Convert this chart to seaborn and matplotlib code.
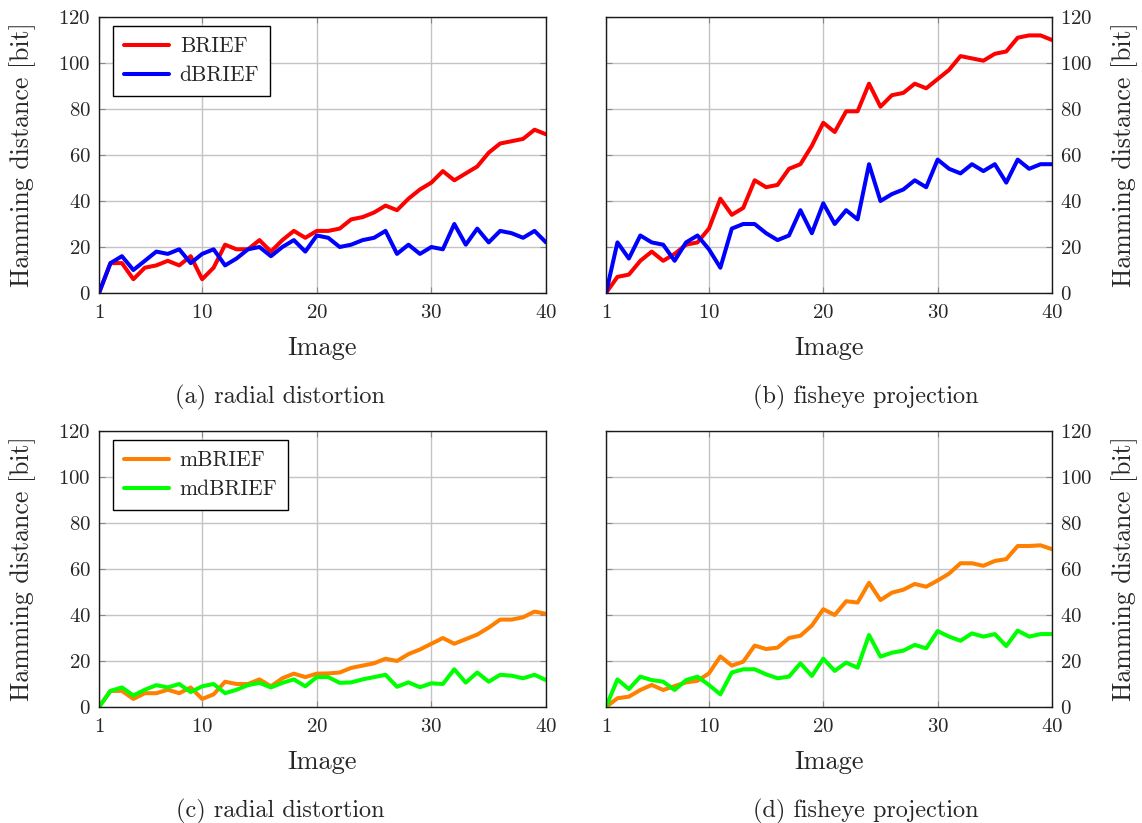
import numpy as np
import pandas as pd
import matplotlib
matplotlib.use("Agg")
import matplotlib.pyplot as plt
import seaborn as sns

# Image index
images = list(range(1, 41))

# Hamming distances, radial distortion (top left)
brief_radial = [0, 13, 13, 6, 11, 12, 14, 12, 16, 6, 11, 21, 19, 19, 23, 18, 23, 27, 24, 27,
                27, 28, 32, 33, 35, 38, 36, 41, 45, 48, 53, 49, 52, 55, 61, 65, 66, 67, 71, 69]
dbrief_radial = [0, 13, 16, 10, 14, 18, 17, 19, 13, 17, 19, 12, 15, 19, 20, 16, 20, 23, 18, 25,
                 24, 20, 21, 23, 24, 27, 17, 21, 17, 20, 19, 30, 21, 28, 22, 27, 26, 24, 27, 22]

# Hamming distances, fisheye projection (top right)
brief_fisheye = [0, 7, 8, 14, 18, 14, 17, 21, 22, 28, 41, 34, 37, 49, 46, 47, 54, 56, 64, 74,
                 70, 79, 79, 91, 81, 86, 87, 91, 89, 93, 97, 103, 102, 101, 104, 105, 111, 112, 112, 110]
dbrief_fisheye = [0, 22, 15, 25, 22, 21, 14, 22, 25, 19, 11, 28, 30, 30, 26, 23, 25, 36, 26, 39,
                  30, 36, 32, 56, 40, 43, 45, 49, 46, 58, 54, 52, 56, 53, 56, 48, 58, 54, 56, 56]

# Masked descriptors, radial distortion (bottom left)
mbrief_radial = [0, 7, 7, 3.5, 6, 6, 7.5, 6, 8.5, 3.5, 5.5, 11, 10, 10, 12, 9, 12.5, 14.5, 13, 14.5,
                 14.6, 15, 17, 18, 19, 21, 20, 23, 25, 27.5, 30, 27.5, 29.5, 31.5, 34.5, 38, 38, 39, 41.5, 40.5]
mdbrief_radial = [0, 7, 8.5, 5, 7.5, 9.5, 8.5, 10, 6.5, 9, 10, 6, 7.5, 9.5, 10.5, 8.5, 10.5, 12, 9, 13,
                  13, 10.5, 10.7, 12, 13, 14, 8.8, 10.7, 8.6, 10.3, 10, 16.4, 10.6, 15, 11, 14, 13.6, 12.5, 14, 11.7]

# Masked descriptors, fisheye projection (bottom right)
mbrief_fisheye = [0, 3.8, 4.5, 7.4, 9.6, 7.4, 9.1, 10.7, 11.4, 14.6, 22, 18, 19.7, 26.7, 25.2, 25.8, 30, 31, 35.4, 42.5,
                  40, 46, 45.4, 54, 46.5, 49.7, 51, 53.5, 52.3, 55, 58, 62.5, 62.5, 61.4, 63.5, 64.3, 70, 70, 70.3, 68.6]
mdbrief_fisheye = [0, 12, 7.8, 13.2, 11.7, 11, 7.4, 11.7, 13.2, 9.6, 5.5, 15, 16.4, 16.4, 14.2, 12.5, 13.2, 19, 13.5, 21,
                   15.7, 19.3, 17.1, 31.3, 21.9, 23.6, 24.5, 27, 25.5, 33, 30.6, 28.8, 32, 30.6, 31.7, 26.5, 33.2, 30.6, 31.7, 31.7]

x_ticks = [1, 10, 20, 30, 40]
y_ticks = [0, 20, 40, 60, 80, 100, 120]
captions = ["(a) radial distortion", "(b) fisheye projection",
            "(c) radial distortion", "(d) fisheye projection"]

sns.set_theme(style="white")
plt.rcParams["font.family"] = ["cmr10", "DejaVu Serif"]
plt.rcParams["axes.formatter.use_mathtext"] = True
plt.rcParams["mathtext.fontset"] = "cm"

fig = plt.figure(figsize=(11.42, 8.23), dpi=100)
W, H = 1142, 823


def make_axes(x0, x1, y0, y1):
    return fig.add_axes([x0 / W, 1 - y1 / H, (x1 - x0) / W, (y1 - y0) / H])


panels = [
    (make_axes(99, 546, 17, 293), brief_radial, dbrief_radial, ("BRIEF", "dBRIEF"), ("#ff0000", "#0000ff"), "left"),
    (make_axes(606, 1052, 17, 293), brief_fisheye, dbrief_fisheye, ("BRIEF", "dBRIEF"), ("#ff0000", "#0000ff"), "right"),
    (make_axes(99, 546, 431, 707), mbrief_radial, mdbrief_radial, ("mBRIEF", "mdBRIEF"), ("#ff8000", "#00ff00"), "left"),
    (make_axes(606, 1052, 431, 707), mbrief_fisheye, mdbrief_fisheye, ("mBRIEF", "mdBRIEF"), ("#ff8000", "#00ff00"), "right"),
]

for i, (ax, s1, s2, names, colors, side) in enumerate(panels):
    df = pd.DataFrame({
        "Image": images + images,
        "dist": s1 + s2,
        "method": [names[0]] * len(images) + [names[1]] * len(images),
    })
    sns.lineplot(data=df, x="Image", y="dist", hue="method",
                 palette=dict(zip(names, colors)), linewidth=2.9,
                 ax=ax, legend=(side == "left"))
    ax.set_xlim(1, 40)
    ax.set_ylim(0, 120)
    ax.set_xticks(x_ticks)
    ax.set_yticks(y_ticks)
    ax.grid(True, color="#c4c4c4", linewidth=1.0)
    ax.set_axisbelow(True)
    for sp in ax.spines.values():
        sp.set_color("#1a1a1a")
        sp.set_linewidth(1.0)
    ax.tick_params(direction="in", length=4, width=0.8, color="#888888",
                   labelsize=15, top=True, bottom=True, left=True, right=True,
                   pad=6)
    ax.tick_params(axis="x", pad=8)
    ax.set_xlabel("Image", fontsize=19, labelpad=10)
    if side == "right":
        ax.tick_params(labelleft=False, labelright=True)
        ax.yaxis.set_label_position("right")
        ax.set_ylabel("Hamming distance [bit]", fontsize=18.6, labelpad=13)
    else:
        ax.set_ylabel("Hamming distance [bit]", fontsize=18.6, labelpad=16)
        leg = ax.legend(loc="upper left", fontsize=15.5, frameon=True, fancybox=False,
                        edgecolor="black", framealpha=1, borderpad=0.5,
                        handlelength=2.1, handletextpad=0.5, borderaxespad=0,
                        bbox_to_anchor=(14 / 447, 1 - 9 / 276),
                        labelspacing=0.45)
        leg.get_frame().set_linewidth(1.0)
        leg.set_title(None)

# Subfigure captions
cap_pos = [(280, 397), (866, 397), (280, 811), (866, 811)]
for (cx, cy), text in zip(cap_pos, captions):
    fig.text(cx / W, 1 - cy / H, text, ha="center", va="center", fontsize=17.5)

fig.savefig("out.png", dpi=100)
